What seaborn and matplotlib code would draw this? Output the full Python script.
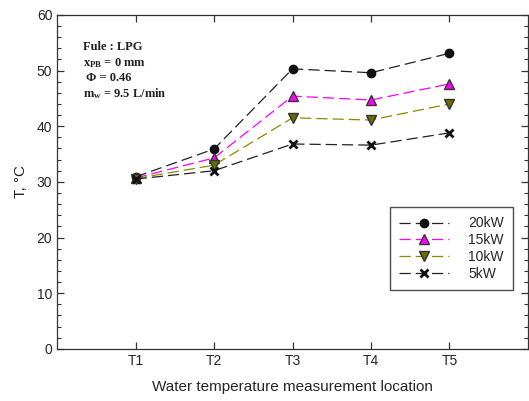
import numpy as np
import pandas as pd
import seaborn as sns
import matplotlib.pyplot as plt
from matplotlib.ticker import MultipleLocator

# Data
locations = ['T1', 'T2', 'T3', 'T4', 'T5']
temp_20kw = [30.9, 35.9, 50.3, 49.6, 53.1]
temp_15kw = [30.7, 34.3, 45.4, 44.7, 47.6]
temp_10kw = [30.6, 33.0, 41.5, 41.1, 44.0]
temp_5kw = [30.5, 32.0, 36.8, 36.6, 38.8]
powers = ['20kW', '15kW', '10kW', '5kW']

rows = []
for name, vals in zip(powers, [temp_20kw, temp_15kw, temp_10kw, temp_5kw]):
    for i, v in enumerate(vals):
        rows.append(dict(pos=i + 1, temp=v, power=name))
df = pd.DataFrame(rows)

sns.set_theme(style='ticks')
plt.rcParams['font.family'] = ['Liberation Sans', 'DejaVu Sans']
plt.rcParams['mathtext.fontset'] = 'custom'
plt.rcParams['mathtext.rm'] = 'Liberation Serif'
plt.rcParams['mathtext.bf'] = 'Liberation Serif:bold'

styles = {
    '20kW': dict(color='#222222', marker='o', mfc='#111111', mec='#111111', ms=6),
    '15kW': dict(color='#ff00ff', marker='^', mfc='#ff00ff', mec='#333333', ms=7),
    '10kW': dict(color='#8b8b00', marker='v', mfc='#6b6b00', mec='#333333', ms=7),
    '5kW': dict(color='#222222', marker='x', mfc='#111111', mec='#111111', ms=6),
}

fig, ax = plt.subplots(figsize=(5.29, 4.01), dpi=100)
for name in powers:
    st = styles[name]
    sub = df[df['power'] == name]
    sns.lineplot(data=sub, x='pos', y='temp', ax=ax, label=name,
                 color=st['color'], marker=st['marker'],
                 markerfacecolor=st['mfc'], markeredgecolor=st['mec'],
                 markersize=st['ms'], markeredgewidth=1.0 if name != '5kW' else 2.0,
                 linewidth=0.9, dashes=(9, 4))

ax.set_xlim(0, 6)
ax.set_ylim(0, 60)
ax.set_xticks(range(1, 6))
ax.set_xticklabels(locations)
ax.yaxis.set_major_locator(MultipleLocator(10))
ax.yaxis.set_minor_locator(MultipleLocator(2))
ax.tick_params(which='both', direction='in', top=True, right=True,
               labelsize=10, color='#333333')
ax.tick_params(which='major', length=5, width=0.9)
ax.tick_params(which='minor', length=3, width=0.8)
for sp in ax.spines.values():
    sp.set_linewidth(0.9)
    sp.set_color('#333333')

ax.set_xlabel('Water temperature measurement location', fontsize=11, labelpad=9)
ax.set_ylabel('T, °C', fontsize=11, labelpad=6)

leg = ax.legend(loc='lower right', bbox_to_anchor=(0.968, 0.177), fontsize=10,
                frameon=True, fancybox=False, edgecolor='#222222',
                handlelength=3.6, borderpad=0.65, labelspacing=0.2,
                handletextpad=1.4, borderaxespad=0)
leg.get_frame().set_linewidth(1.0)

txt = dict(transform=ax.transAxes, fontsize=9, color='#222222',
           family='Liberation Serif', fontweight='bold', va='center')
ax.text(0.055, 0.904, 'Fule : LPG', **txt)
ax.text(0.055, 0.856, r'$\mathbf{x_{PB}}$ = 0 mm', **txt)
ax.text(0.062, 0.811, 'Φ = 0.46', **txt)
ax.text(0.055, 0.763, r'$\mathbf{m_{w}}$ = 9.5 L/min', **txt)

fig.subplots_adjust(left=0.108, right=0.998, top=0.963, bottom=0.13)
fig.savefig('out.png', dpi=100)
